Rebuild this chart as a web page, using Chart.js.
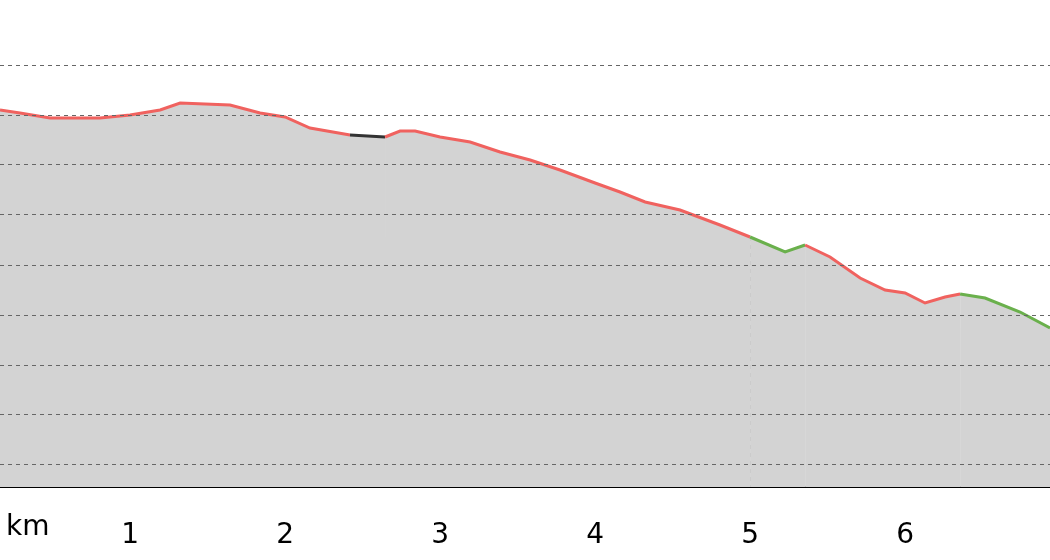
<!DOCTYPE html>
<html>
<head>
    <title>Elevation profile</title>
    <script src="https://cdn.jsdelivr.net/npm/chart.js"></script>
    <style>
        body { margin: 0; background: #fff; }
        #wrap { width: 1050px; height: 560px; }
    </style>
</head>
<body>
<div id="wrap"><canvas id="profile"></canvas></div>
<script>
// distance along route (km) and elevation (m)
var distances = [0.161, 0.290, 0.484, 0.806, 1.0, 1.194, 1.323, 1.645, 1.839, 2.0, 2.161, 2.419, 2.645, 2.742, 2.839, 3.0, 3.194, 3.387, 3.581, 3.774, 4.0, 4.161, 4.323, 4.548, 4.806, 5.0, 5.226, 5.355, 5.516, 5.71, 5.871, 6.0, 6.129, 6.258, 6.355, 6.516, 6.742, 6.935];
var elevations = [171, 170.4, 169.4, 169.4, 170, 171, 172.4, 172, 170.4, 169.6, 167.4, 166, 165.6, 166.8, 166.8, 165.6, 164.6, 162.6, 161, 159, 156.4, 154.6, 152.6, 151, 148, 145.6, 142.6, 144, 141.6, 137.4, 135, 134.4, 132.4, 133.6, 134.2, 133.4, 130.6, 127.4];
// surface type of the segment starting at each point: r = paved, k = unknown, g = track
var surfaces = ['r','r','r','r','r','r','r','r','r','r','r','k','r','r','r','r','r','r','r','r','r','r','r','r','r','g','g','r','r','r','r','r','r','r','g','g','g'];
var kmTicks = [1, 2, 3, 4, 5, 6];
var elevTicks = [100, 110, 120, 130, 140, 150, 160, 170, 180];

var surfaceColors = { r: '#f0625f', k: '#333333', g: '#6ab04c' };

var points = distances.map(function (d, i) { return { x: d, y: elevations[i] }; });

function elevationAt(km) {
    for (var i = 1; i < distances.length; i++) {
        if (km <= distances[i]) {
            var t = (km - distances[i - 1]) / (distances[i] - distances[i - 1]);
            return elevations[i - 1] + t * (elevations[i] - elevations[i - 1]);
        }
    }
    return elevations[elevations.length - 1];
}

// vertical km lines only under the profile
var kmLines = {
    id: 'kmLines',
    beforeDatasetsDraw: function (chart) {
        var c = chart.ctx, xs = chart.scales.x, ys = chart.scales.y;
        c.save();
        c.strokeStyle = '#666';
        c.lineWidth = 1;
        c.setLineDash([4, 4]);
        kmTicks.forEach(function (k) {
            var px = Math.round(xs.getPixelForValue(k)) + 0.5;
            c.beginPath();
            c.moveTo(px, ys.getPixelForValue(elevationAt(k)));
            c.lineTo(px, chart.chartArea.bottom);
            c.stroke();
        });
        c.restore();
    },
    afterDraw: function (chart) {
        var c = chart.ctx;
        c.save();
        c.font = '28px "DejaVu Sans"';
        c.fillStyle = '#000';
        c.textBaseline = 'middle';
        c.fillText('km', 6, 528);
        c.restore();
    }
};

new Chart(document.getElementById('profile').getContext('2d'), {
    type: 'line',
    data: {
        datasets: [{
            data: points,
            borderWidth: 3,
            pointRadius: 0,
            tension: 0,
            fill: 'start',
            backgroundColor: '#d3d3d3',
            segment: {
                borderColor: function (ctx) { return surfaceColors[surfaces[ctx.p0DataIndex]]; }
            }
        }]
    },
    plugins: [kmLines],
    options: {
        responsive: true,
        maintainAspectRatio: false,
        animation: false,
        layout: { padding: 0 },
        plugins: { legend: { display: false }, tooltip: { enabled: false } },
        scales: {
            x: {
                type: 'linear',
                min: 0.161,
                max: 6.935,
                afterBuildTicks: function (axis) { axis.ticks = kmTicks.map(function (v) { return { value: v }; }); },
                afterFit: function (axis) { axis.height = 73; },
                ticks: {
                    font: { size: 28, family: 'DejaVu Sans' },
                    color: '#000',
                    padding: 24,
                    maxRotation: 0
                },
                grid: { display: false },
                border: { display: true, color: '#000', width: 2 }
            },
            y: {
                min: 95.6,
                max: 193,
                afterBuildTicks: function (axis) { axis.ticks = elevTicks.map(function (v) { return { value: v }; }); },
                afterFit: function (axis) { axis.width = 0; },
                ticks: { display: false },
                grid: { color: '#666', lineWidth: 1, drawTicks: false, z: 1 },
                border: { display: false, dash: [4, 4] }
            }
        }
    }
});
</script>
</body>
</html>
